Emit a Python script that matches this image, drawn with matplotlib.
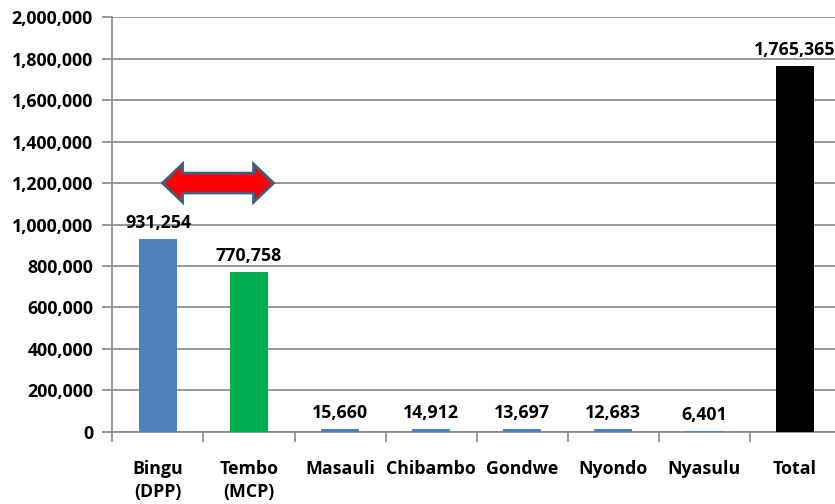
import numpy as np
import matplotlib
matplotlib.use("Agg")
from matplotlib import pyplot as plt
from matplotlib.patches import Polygon
from matplotlib.ticker import FuncFormatter, MultipleLocator

# candidate vote counts
names = ["Bingu\n(DPP)", "Tembo\n(MCP)", "Masauli", "Chibambo", "Gondwe", "Nyondo", "Nyasulu", "Total"]
votes = [931254, 770758, 15660, 14912, 13697, 12683, 6401, 1765365]
colors = ["#4F81BD", "#00B050", "#4F81BD", "#4F81BD", "#4F81BD", "#4F81BD", "#4F81BD", "#000000"]

plt.rcParams['font.family'] = ['Open Sans', 'DejaVu Sans']
plt.rcParams['font.weight'] = 'bold'
fs = 12.8

fig = plt.figure(figsize=(8.35, 5.04), dpi=100)
ax = fig.add_axes([0.1347, 0.143, 0.872, 0.823])

x = np.arange(len(names))
ax.bar(x, votes, width=0.42, color=colors, zorder=3)

for xi, v in zip(x, votes):
	ax.annotate(f"{v:,}", (xi, v), xytext=(0, 5), textcoords="offset points",
		ha="center", va="bottom", fontsize=fs, fontweight="bold", annotation_clip=False)

ax.set_xlim(-0.5, len(names) - 0.5)
ax.set_ylim(0, 2000000)
ax.yaxis.set_major_locator(MultipleLocator(200000))
ax.yaxis.set_major_formatter(FuncFormatter(lambda v, p: f"{int(v):,}"))
ax.grid(axis="y", color="#878787", linewidth=1.2, zorder=0)

for s in ["top", "right"]:
	ax.spines[s].set_visible(False)
ax.spines["left"].set_color("#878787")
ax.spines["bottom"].set_color("#878787")
ax.spines["left"].set_linewidth(1.2)
ax.spines["bottom"].set_linewidth(1.2)

ax.set_xticks(x)
ax.set_xticklabels(names, fontsize=fs, fontweight="bold", linespacing=1.35)
ax.set_xticks(np.arange(-0.5, len(names)), minor=True)
ax.tick_params(axis="x", which="major", length=0, pad=20)
ax.tick_params(axis="x", which="minor", length=7, color="#878787", width=1.2)
ax.tick_params(axis="y", length=7, color="#878787", width=1.2, labelsize=fs, pad=7)
for lab in ax.get_yticklabels():
	lab.set_fontweight("bold")

# double-headed arrow between the two leaders
x0, x1, yc = 0.05, 1.27, 1200000
body, head, hlen = 48000, 92000, 0.22
pts = [(x0, yc), (x0 + hlen, yc + head), (x0 + hlen, yc + body), (x1 - hlen, yc + body),
	(x1 - hlen, yc + head), (x1, yc), (x1 - hlen, yc - head), (x1 - hlen, yc - body),
	(x0 + hlen, yc - body), (x0 + hlen, yc - head)]
ax.add_patch(Polygon(pts, closed=True, facecolor="#FF0000", edgecolor="#3F5E86", linewidth=2, zorder=4))

fig.savefig("out.png", dpi=100)
